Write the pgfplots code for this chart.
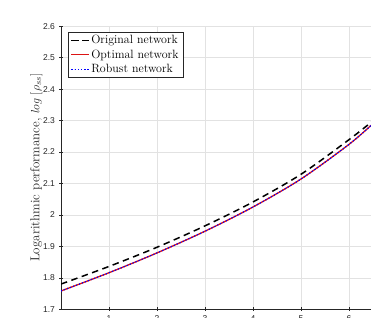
\documentclass[border=0pt]{standalone}
\usepackage{fontspec}
\usepackage{pgfplots}
\pgfplotsset{compat=1.18}
\newfontfamily\tickfont{Liberation Sans}
\definecolor{axgray}{RGB}{38,38,38}
\definecolor{gridgray}{RGB}{226,226,226}
\definecolor{mred}{RGB}{220,20,20}
\begin{document}
\begin{tikzpicture}
\path[use as bounding box] (0,0) rectangle (371pt,317pt);
\begin{axis}[
  at={(61pt,7.8pt)}, anchor=south west,
  scale only axis,
  width=310pt, height=283pt,
  xmin=0, xmax=6.46, ymin=1.7, ymax=2.6,
  xtick={1,2,3,4,5,6},
  ytick={1.7,1.8,1.9,2,2.1,2.2,2.3,2.4,2.5,2.6},
  axis lines=left,
  axis line style={-, draw=axgray, line width=0.5pt},
  tick align=center,
  major tick length=4pt,
  tick style={axgray, line width=0.5pt},
  grid=major,
  major grid style={gridgray, line width=0.5pt},
  /pgf/number format/assume math mode=true,
  ticklabel style={font=\tickfont\fontsize{8.5}{10}\selectfont, text=axgray},
  yticklabel style={xshift=-0.5pt},
  xticklabel style={yshift=-1pt},
  ylabel={Logarithmic performance, $log\;[\rho_{ss}]$},
  ylabel style={at={(axis description cs:-0.08,0.5)}, anchor=center, font=\fontsize{13}{15}\selectfont, text=axgray},
  legend cell align=left,
  legend style={at={(axis description cs:0.0225,0.979)}, anchor=north west,
    draw=axgray, line width=0.5pt, fill=white,
    font=\fontsize{12}{14}\selectfont, row sep=0.5pt, inner xsep=2.5pt, inner ysep=1pt},
]
\addplot[black, line width=1.5pt, dash pattern=on 6.5pt off 4.5pt, smooth] coordinates {
  (0,1.780) (1,1.836) (2,1.897) (3,1.965) (4,2.041) (5,2.129) (6,2.239) (6.5,2.299)
};
\addlegendentry{Original network}
\addplot[mred, line width=1.3pt, smooth] coordinates {
  (0,1.758) (1,1.816) (2,1.879) (3,1.948) (4,2.025) (5,2.114) (6,2.224) (6.5,2.290)
};
\addlegendentry{Optimal network}
\addplot[blue, line width=1.2pt, dotted, smooth] coordinates {
  (0,1.758) (1,1.816) (2,1.879) (3,1.948) (4,2.025) (5,2.114) (6,2.224) (6.5,2.290)
};
\addlegendentry{Robust network}
\end{axis}
\end{tikzpicture}
\end{document}
